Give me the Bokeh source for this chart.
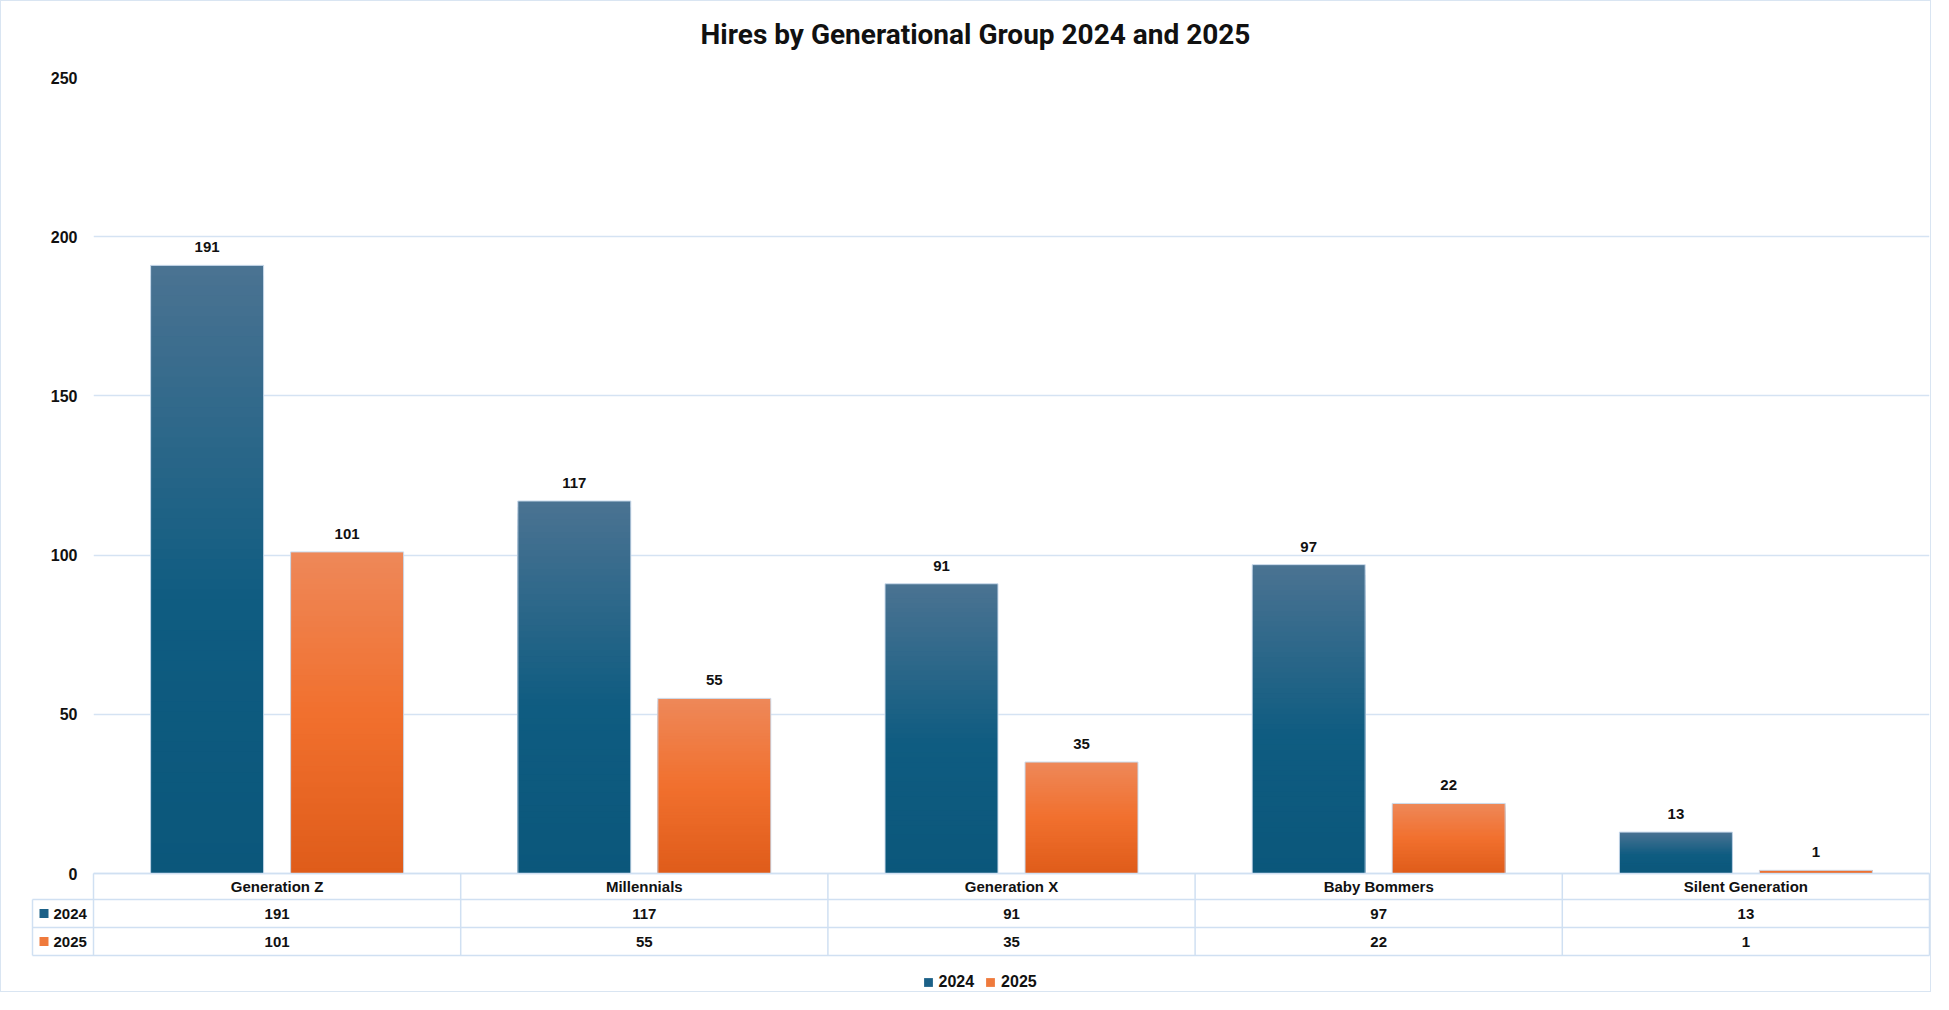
import numpy as np
from bokeh.plotting import figure
from bokeh.models import (Range1d, FixedTicker, Legend, LegendItem,
                          ColumnDataSource)
from bokeh.core.properties import value
from bokeh.embed import file_html
from bokeh.resources import INLINE

# ---------------- data ----------------
categories = ["Generation Z", "Millennials", "Generation X", "Baby Bommers", "Silent Generation"]
hires_2024 = [191, 117, 91, 97, 13]
hires_2025 = [101, 55, 35, 22, 1]
series_names = ["2024", "2025"]
y_ticks = [0, 50, 100, 150, 200, 250]
chart_title = "Hires by Generational Group 2024 and 2025"

# ---------------- layout / style ----------------
W, H = 1931, 992
BORDER_L, BORDER_R, BORDER_T = 92, 3, 76
ZERO_PX = 796            # px from frame top down to the zero line
Y_MAX = 250
FRAME_W = W - BORDER_L - BORDER_R
FRAME_H = H - BORDER_T
XPU = FRAME_W / len(categories)      # px per category
PXU = ZERO_PX / Y_MAX                # px per value unit
Y_MIN = -(FRAME_H - ZERO_PX) / PXU
TITLE_CX, TITLE_CY = 974, 33         # canvas px

TEXT = "#111111"
GRID = "#d5e3f3"
TABLE_LINE = "#d0e0f2"
FONT = "Liberation Sans"
TITLE_FONT = "Roboto"
BLUE_STOPS = [(0.0, "#4b7392"), (0.55, "#0f5c81"), (1.0, "#0b577b")]
ORANGE_STOPS = [(0.0, "#ee8859"), (0.5, "#f1702e"), (1.0, "#df5c1a")]
LEGEND_COLORS = ["#1b6087", "#ef7a3c"]
BAR_W_PX, BAR_OFF_PX = 113, 70
ROW_EDGES_PX = [0, 26, 54, 82]       # table row boundaries below zero
LEFT_COL_PX = -61                    # key column left edge rel. to frame
KEY_SQ_CX, KEY_SQ, KEY_TXT_X = -49.5, 9, -40


def hex2rgb(h):
    return np.array([int(h[i:i + 2], 16) for i in (1, 3, 5)], float)


def grad(stops, t):
    for (p0, c0), (p1, c1) in zip(stops[:-1], stops[1:]):
        if t <= p1:
            f = (t - p0) / (p1 - p0)
            rgb = hex2rgb(c0) * (1 - f) + hex2rgb(c1) * f
            return "#%02x%02x%02x" % tuple(int(round(v)) for v in rgb)
    return stops[-1][1]


p = figure(width=W, height=H, output_backend="svg", toolbar_location=None,
           x_axis_location=None, x_range=Range1d(0, len(categories)),
           y_range=Range1d(Y_MIN, Y_MAX),
           min_border_left=BORDER_L, min_border_right=BORDER_R,
           min_border_top=BORDER_T, min_border_bottom=0,
           styles={"border": "1px solid #d9e5f2"})
p.outline_line_color = None
p.xgrid.visible = False
p.ygrid.grid_line_color = GRID
p.ygrid.grid_line_width = 1.5

ax = p.yaxis[0]
ax.ticker = FixedTicker(ticks=y_ticks)
ax.axis_line_color = None
ax.major_tick_line_color = None
ax.minor_tick_line_color = None
ax.major_tick_out = 0
ax.major_tick_in = 0
ax.major_label_standoff = 16
ax.major_label_text_font = FONT
ax.major_label_text_font_style = "bold"
ax.major_label_text_font_size = "16px"
ax.major_label_text_color = TEXT

centers = np.arange(len(categories)) + 0.5
bar_w = BAR_W_PX / XPU
offsets = [-BAR_OFF_PX / XPU, BAR_OFF_PX / XPU]

# gradient bars (stacked slices painted top colour first)
N = 60
sl = dict(x=[], top=[], color=[])
for vals, stops, off in ((hires_2024, BLUE_STOPS, offsets[0]),
                         (hires_2025, ORANGE_STOPS, offsets[1])):
    for i, v in enumerate(vals):
        for k in range(N):
            sl["x"].append(centers[i] + off)
            sl["top"].append(v * (1 - k / N))
            sl["color"].append(grad(stops, (k + 0.5) / N))
p.vbar(x="x", top="top", bottom=0, width=bar_w, fill_color="color",
       line_color=None, source=ColumnDataSource(sl))

for vals, off in ((hires_2024, offsets[0]), (hires_2025, offsets[1])):
    p.vbar(x=centers + off, top=vals, bottom=0, width=bar_w, fill_color=None,
           line_color="#cbdbec", line_width=1)
    p.text(x=centers + off, y=np.array(vals) + 18 / PXU,
           text=[str(v) for v in vals], text_align="center",
           text_baseline="middle", text_font=value(FONT),
           text_font_style="bold", text_font_size="15px", text_color=TEXT)

# ---------------- data table ----------------
rows = -np.array(ROW_EDGES_PX) / PXU
left = LEFT_COL_PX / XPU
n = len(categories)
x0, y0, x1, y1 = [0], [rows[0]], [n], [rows[0]]
for r in rows[1:]:
    x0.append(left); y0.append(r); x1.append(n); y1.append(r)
for j in range(n + 1):
    x0.append(j); y0.append(rows[0]); x1.append(j); y1.append(rows[-1])
x0.append(left); y0.append(rows[1]); x1.append(left); y1.append(rows[-1])
p.segment(x0=x0, y0=y0, x1=x1, y1=y1, line_color=TABLE_LINE,
          line_width=1.5, level="overlay")

row_mid = (rows[:-1] + rows[1:]) / 2
p.text(x=centers, y=[row_mid[0]] * n, text=categories, text_align="center",
       text_baseline="middle", text_font=value(FONT), text_font_style="bold",
       text_font_size="15px", text_color=TEXT, level="overlay")
for vals, ym in ((hires_2024, row_mid[1]), (hires_2025, row_mid[2])):
    p.text(x=centers, y=[ym] * n, text=[str(v) for v in vals],
           text_align="center", text_baseline="middle", text_font=value(FONT),
           text_font_style="bold", text_font_size="15px", text_color=TEXT,
           level="overlay")

# key column of the table (series swatch + name)
kx0 = (KEY_SQ_CX - KEY_SQ / 2) / XPU
kx1 = (KEY_SQ_CX + KEY_SQ / 2) / XPU
p.segment(x0=[kx0] * 2, y0=list(row_mid[1:]), x1=[kx1] * 2,
          y1=list(row_mid[1:]), line_color=LEGEND_COLORS,
          line_width=KEY_SQ, line_cap="butt", level="overlay")
p.text(x=[KEY_TXT_X / XPU] * 2, y=list(row_mid[1:]), text=series_names,
       text_align="left", text_baseline="middle", text_font=value(FONT),
       text_font_style="bold", text_font_size="15px", text_color=TEXT,
       level="overlay")

# ---------------- bottom legend ----------------
proxies = [p.scatter(x=[-100], y=[-1000], marker="square", size=9,
                     fill_color=c, line_color=None) for c in LEGEND_COLORS]
p.add_layout(Legend(items=[LegendItem(label=nm, renderers=[r])
                           for nm, r in zip(series_names, proxies)],
                    orientation="horizontal", location=(823.5, 0),
                    glyph_width=22, glyph_height=22, label_standoff=-2,
                    spacing=5, padding=0, margin=0,
                    border_line_color=None, background_fill_alpha=0,
                    label_text_font=FONT, label_text_font_style="bold",
                    label_text_font_size="16px", label_text_color=TEXT,
                    label_height=22, label_width=0))

# ---------------- title ----------------
p.text(x=[(TITLE_CX - BORDER_L) / XPU],
       y=[Y_MAX + (BORDER_T - TITLE_CY) / PXU], text=[chart_title],
       text_align="center", text_baseline="middle",
       text_font=value(TITLE_FONT), text_font_size="28px",
       text_font_style="bold", text_color=TEXT, level="overlay")

open("out.html", "w").write(file_html(p, INLINE))
